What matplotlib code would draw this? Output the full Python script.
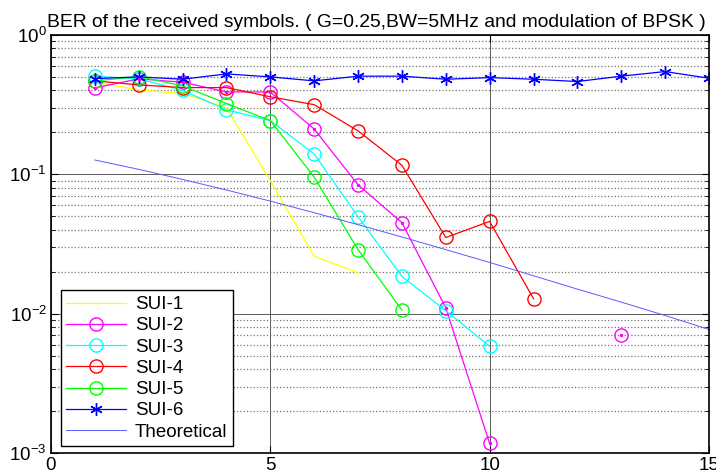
import numpy as np
import matplotlib
matplotlib.use('Agg')
import matplotlib.pyplot as plt
from matplotlib.ticker import LogLocator, NullFormatter

plt.rcParams['font.family'] = ['Liberation Sans', 'DejaVu Sans']
plt.rcParams['mathtext.fontset'] = 'custom'
plt.rcParams['mathtext.rm'] = 'Liberation Sans'
plt.rcParams['mathtext.it'] = 'Liberation Sans'

snr = [1, 2, 3, 4, 5, 6, 7, 8, 9, 10, 11, 12, 13, 14, 15]

# nan = no error counted (not drawn on log axis)
nan = np.nan
sui1 = [0.46, 0.403, 0.38, 0.30, 0.09, 0.0258, 0.0197, nan, nan, nan, nan, nan, nan, nan, nan]
sui2 = [0.417, 0.484, 0.458, 0.39, 0.39, 0.211, 0.084, 0.045, 0.011, 0.00117, nan, nan, 0.0070, nan, nan]
sui3 = [0.506, 0.484, 0.40, 0.29, 0.243, 0.14, 0.0496, 0.0185, 0.0105, 0.00583, nan, nan, nan, nan, nan]
sui4 = [0.468, 0.438, 0.419, 0.419, 0.36, 0.316, 0.205, 0.116, 0.0352, 0.0459, 0.0128, nan, nan, nan, nan]
sui5 = [0.468, 0.502, 0.431, 0.322, 0.243, 0.0955, 0.0288, 0.0106, nan, nan, nan, nan, nan, nan, nan]
sui6 = [0.486, 0.50, 0.481, 0.525, 0.50, 0.468, 0.506, 0.506, 0.481, 0.494, 0.481, 0.463, 0.506, 0.546, 0.489]
theory = [0.1267, 0.1085, 0.0919, 0.0771, 0.0642, 0.0530, 0.0435, 0.0355, 0.0288, 0.0233,
          0.0187, 0.0150, 0.0121, 0.0097, 0.0077]

fig = plt.figure(figsize=(7.16, 4.74), dpi=100)
ax = fig.add_axes([0.0712, 0.0443, 0.919, 0.882])

circ = dict(marker='o', markersize=9.5, markerfacecolor='none', linewidth=0.9)
ax.semilogy(snr, sui1, color='#ffff00', linewidth=0.9, label='SUI-1')
ax.semilogy(snr, sui2, color='#ff00ff', markeredgecolor='#ff00ff', label='SUI-2', **circ)
ax.semilogy(snr, sui3, color='#00ffff', markeredgecolor='#00ffff', label='SUI-3', **circ)
ax.semilogy(snr, sui4, color='#ff0000', markeredgecolor='#ff0000', label='SUI-4', **circ)
ax.semilogy(snr, sui5, color='#00ff00', markeredgecolor='#00ff00', label='SUI-5', **circ)
ax.semilogy(snr, sui6, color='#0000ff', marker=(6, 2, 0), markersize=9, linewidth=0.9, label='SUI-6')
ax.semilogy(snr, theory, color='#5a5aff', linewidth=0.7, label='Theoretical')
# lone SUI-2 point drawn as dot in MATLAB
ax.semilogy(snr, sui2, linestyle='none', marker='.', markersize=3, color='#ff00ff')

ax.set_xlim(0, 15)
ax.set_ylim(1e-3, 1)
ax.set_xticks([0, 5, 10, 15])
ax.yaxis.set_major_locator(LogLocator(base=10, numticks=10))
ax.yaxis.set_minor_locator(LogLocator(base=10, subs=np.arange(2, 10), numticks=10))
ax.yaxis.set_minor_formatter(NullFormatter())
ax.tick_params(which='both', direction='in', top=True, right=True, labelsize=13.5, pad=3)
ax.tick_params(which='major', length=5)
ax.tick_params(which='minor', length=3)

ax.grid(True, which='major', color='0.35', linestyle='-', linewidth=0.7)
ax.grid(True, which='minor', axis='y', color='0.45', linestyle=':', linewidth=0.9)
ax.set_axisbelow(True)
for s in ax.spines.values():
    s.set_linewidth(1.2)

ax.set_title('BER of the received symbols. ( G=0.25,BW=5MHz and modulation of BPSK )',
             fontsize=13.9, pad=6, x=0.494)

leg = ax.legend(loc='lower left', bbox_to_anchor=(0.015, 0.016), borderaxespad=0,
                fontsize=13.5, fancybox=False, framealpha=1, edgecolor='black',
                handlelength=3.2, handletextpad=0.45, labelspacing=0.22, borderpad=0.3)
leg.get_frame().set_linewidth(1.0)

fig.savefig('out.png', dpi=100)
